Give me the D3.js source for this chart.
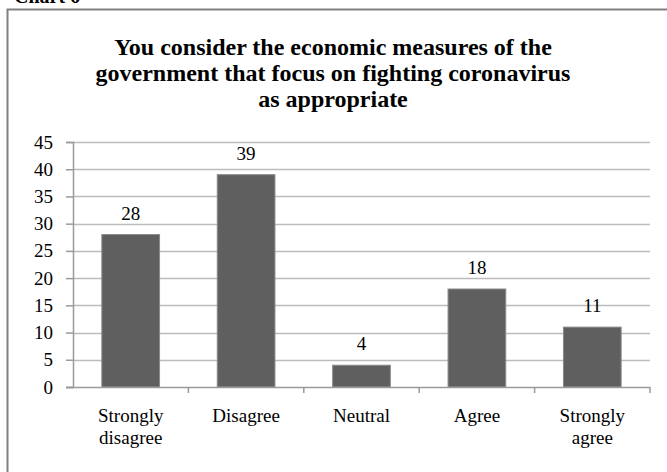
<!DOCTYPE html>
<html>
<head>
<meta charset="utf-8">
<script src="https://cdn.jsdelivr.net/npm/d3@7"></script>
<style>
  body { margin: 0; background: #fff; }
</style>
</head>
<body>
<div id="chart"></div>
<script>
var categories   = [["Strongly", "disagree"], ["Disagree"], ["Neutral"], ["Agree"], ["Strongly", "agree"]];
var values       = [28, 39, 4, 18, 11];
var tick_values  = [0, 5, 10, 15, 20, 25, 30, 35, 40, 45];
var title_lines  = ["You consider the economic measures of the",
                    "government that focus on fighting coronavirus",
                    "as appropriate"];

var font_chart   = "'Liberation Serif', 'Times New Roman', serif";
var width_chart  = 667;
var height_chart = 472;
var left_chart   = 73;
var right_chart  = 650;
var top_chart    = 142;
var bottom_chart = 387;

var svg_chart = d3.select("#chart").append("svg")
  .attr("width", width_chart)
  .attr("height", height_chart)
  .attr("font-family", font_chart);

// cut-off caption above the frame
svg_chart.append("text")
  .attr("x", 14)
  .attr("y", 3)
  .attr("font-family", font_chart)
  .style("font-size", "20px")
  .style("font-weight", "bold")
  .text("Chart 6");

// frame, its right and bottom edges fall outside the picture
svg_chart.append("rect")
  .attr("x", 7.5)
  .attr("y", 9.5)
  .attr("width", 700)
  .attr("height", 500)
  .attr("fill", "#fff")
  .attr("stroke", "#808080")
  .attr("stroke-width", 2);

svg_chart.append("text")
  .attr("text-anchor", "middle")
  .attr("font-family", font_chart)
  .style("font-size", "24px")
  .style("font-weight", "bold")
  .selectAll("tspan")
  .data(title_lines)
  .enter().append("tspan")
  .attr("x", 333)
  .attr("y", function (d, i) { return 55 + i*26; })
  .text(function (d) { return d; });

var x_chart = d3.scaleBand()
  .domain(d3.range(categories.length))
  .range([left_chart, right_chart])
  .paddingInner(0.5)
  .paddingOuter(0.25);

var x_ticks_chart = d3.scaleBand()
  .domain(d3.range(categories.length))
  .range([left_chart, right_chart]);

var y_chart = d3.scaleLinear()
  .domain([0, 45])
  .range([bottom_chart, top_chart]);

// grid lines
svg_chart.append("g")
  .selectAll("line")
  .data(tick_values.slice(1))
  .enter().append("line")
  .attr("x1", left_chart)
  .attr("x2", right_chart)
  .attr("y1", function (d) { return Math.round(y_chart(d)) + 0.5; })
  .attr("y2", function (d) { return Math.round(y_chart(d)) + 0.5; })
  .attr("stroke", "#bcbcbc")
  .attr("stroke-width", 1.5);

// y axis
var axis_y_chart = svg_chart.append("g")
  .attr("transform", "translate(" + left_chart + ",0)")
  .call(d3.axisLeft(y_chart).tickValues(tick_values).tickSize(7).tickPadding(13))
  .attr("font-family", font_chart)
  .attr("font-size", 19);
axis_y_chart.select(".domain").attr("stroke", "#9a9a9a").attr("stroke-width", 1.5);
axis_y_chart.selectAll(".tick line").attr("stroke", "#9a9a9a").attr("stroke-width", 1.5);
axis_y_chart.selectAll(".tick text").attr("fill", "#000");

// bars
svg_chart.append("g")
  .selectAll("rect")
  .data(values)
  .enter().append("rect")
  .attr("x", function (d, i) { return x_chart(i); })
  .attr("y", function (d) { return y_chart(d); })
  .attr("width", x_chart.bandwidth())
  .attr("height", function (d) { return bottom_chart - y_chart(d); })
  .attr("fill", "#5f5f5f")
  .attr("stroke", "#8a8a8a")
  .attr("stroke-width", 1);

// value labels
svg_chart.append("g")
  .selectAll("text")
  .data(values)
  .enter().append("text")
  .attr("x", function (d, i) { return x_chart(i) + x_chart.bandwidth()/2; })
  .attr("y", function (d) { return y_chart(d) - 15; })
  .attr("text-anchor", "middle")
  .attr("font-family", font_chart)
  .style("font-size", "19px")
  .text(function (d) { return d; });

// x axis line and ticks at band edges
var axis_x_chart = svg_chart.append("g");
axis_x_chart.append("line")
  .attr("x1", left_chart - 7)
  .attr("x2", right_chart)
  .attr("y1", bottom_chart + 0.5)
  .attr("y2", bottom_chart + 0.5)
  .attr("stroke", "#9a9a9a")
  .attr("stroke-width", 1.5);
axis_x_chart.selectAll(".xtick")
  .data(d3.range(categories.length))
  .enter().append("line")
  .attr("x1", function (d) { return x_ticks_chart(d) + x_ticks_chart.bandwidth(); })
  .attr("x2", function (d) { return x_ticks_chart(d) + x_ticks_chart.bandwidth(); })
  .attr("y1", bottom_chart)
  .attr("y2", bottom_chart + 6)
  .attr("stroke", "#9a9a9a")
  .attr("stroke-width", 1.5);

// category labels
svg_chart.append("g")
  .selectAll("text")
  .data(categories)
  .enter().append("text")
  .attr("text-anchor", "middle")
  .attr("font-family", font_chart)
  .style("font-size", "19px")
  .selectAll("tspan")
  .data(function (d, i) { return d.map(function (s) { return {s: s, i: i}; }); })
  .enter().append("tspan")
  .attr("x", function (d) { return x_chart(d.i) + x_chart.bandwidth()/2; })
  .attr("y", function (d, j) { return 422 + j*22; })
  .text(function (d) { return d.s; });
</script>
</body>
</html>
